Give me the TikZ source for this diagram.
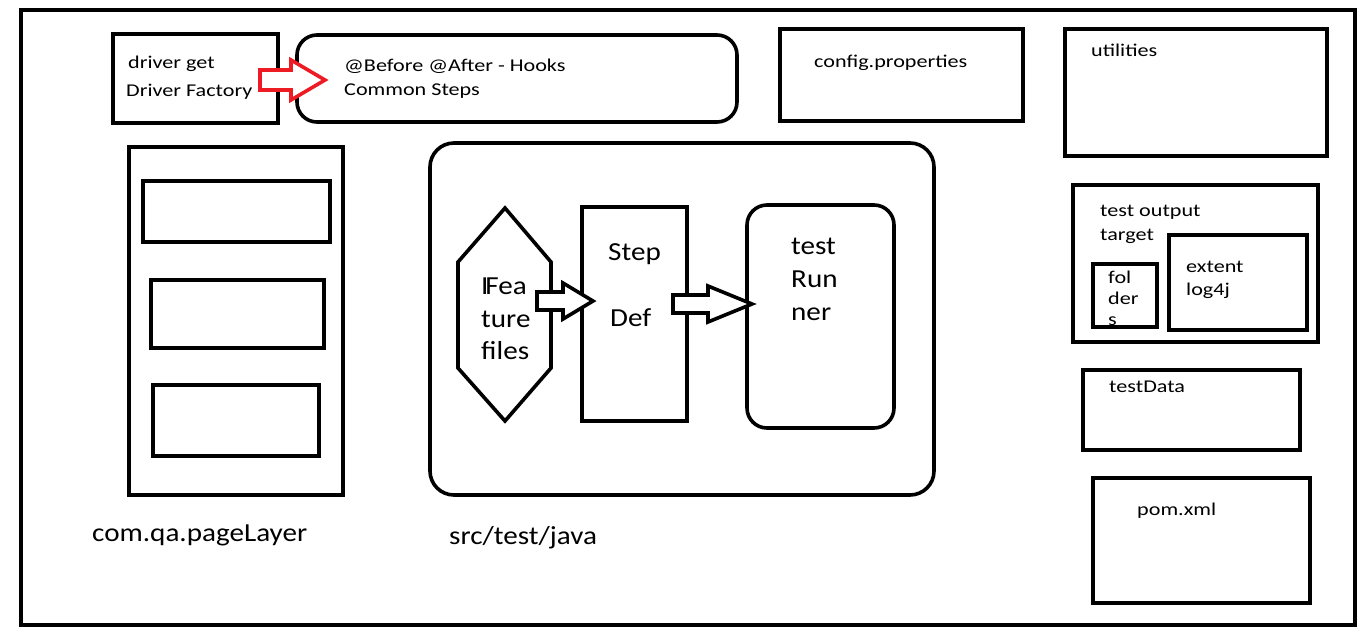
\documentclass[tikz,border=0pt]{standalone}
\usepackage{fontspec}
\setmainfont{Carlito}
\newfontfamily\smfont[FakeStretch=1.23]{Carlito}
\newfontfamily\lgfont[FakeStretch=1.12]{Carlito}
\definecolor{paintred}{RGB}{237,28,36}
\begin{document}
\begin{tikzpicture}[x=1pt,y=-1pt,
  box/.style={draw=black,line width=3.6pt},
  rbox/.style={draw=black,line width=3.6pt,rounded corners=20pt},
  sm/.style={anchor=base west,inner sep=0pt,font=\smfont\fontsize{18}{21}\selectfont},
  lg/.style={anchor=base west,inner sep=0pt,font=\lgfont\fontsize{26}{30}\selectfont},
  blockarrow/.style={draw=black,line width=3.6pt,fill=white,line join=miter},
]
\useasboundingbox (0,0) rectangle (1362,629);
% outer frame
\draw[box] (21,10) rectangle (1355,625);
% driver box
\draw[box] (113,34) rectangle (278,123);
\node[sm] (drv1) at (128,68) {driver get};
\node[sm] (drv2) at (126,96) {Driver Factory};
% hooks
\draw[rbox] (297,35) rectangle (737,122);
\node[sm] (hk1) at (344,71) {@Before @After - Hooks};
\node[sm] (hk2) at (344,95) {Common Steps};
% red arrow
\draw[draw=paintred,line width=3.6pt,fill=white,line join=miter]
  (260,70) -- (291,70) -- (291,60) -- (325,80) -- (291,100) -- (291,90) -- (260,90) -- cycle;
% config
\draw[box] (780,29) rectangle (1023,121);
\node[sm] (cfg) at (814,67) {config.properties};
% utilities
\draw[box] (1065,29) rectangle (1327,156);
\node[sm] (util) at (1091,56) {utilities};
% page layer
\draw[box] (129,147) rectangle (343,495);
\draw[box] (143,181) rectangle (330,242);
\draw[box] (151,280) rectangle (324,348);
\draw[box] (153,385) rectangle (319,456);
\node[lg] (pl) at (92,541) {com.qa.pageLayer};
% src/test/java
\draw[rbox,rounded corners=24pt] (430,143) rectangle (934,495);
\node[lg] (stj) at (449,544) {src/test/java};
% hexagon
\draw[box,line join=miter] (505,208) -- (551,262) -- (551,368) -- (505,421) -- (458,368) -- (458,262) -- cycle;
\node[lg] (f1) at (481,294) {I\kern-0.12em Fea};
\node[lg] (f2) at (481,327) {ture};
\node[lg] (f3) at (481,359) {files};
% step def
\draw[box] (582,207) rectangle (687,421);
\node[lg] (sd1) at (608,260) {Step};
\node[lg] (sd2) at (610,326) {Def};
% test runner
\draw[rbox] (747,205) rectangle (894,428);
\node[lg] (tr1) at (791,254) {test};
\node[lg] (tr2) at (791,287) {Run};
\node[lg] (tr3) at (791,320) {ner};
% black arrows
\draw[blockarrow] (537,292) -- (563,292) -- (563,283) -- (593,301) -- (563,319) -- (563,310) -- (537,310) -- cycle;
\draw[blockarrow] (673,295) -- (708,295) -- (708,286) -- (752,304) -- (708,322) -- (708,313) -- (673,313) -- cycle;
% test output
\draw[box] (1073,185) rectangle (1318,342);
\node[sm] (to1) at (1100,216) {test output};
\node[sm] (to2) at (1100,240) {target};
\begin{scope}
\clip (1093,264) rectangle (1157,326);
\node[sm] (fo1) at (1108,283) {fol};
\node[sm] (fo2) at (1108,304) {der};
\node[sm] (fo3) at (1108,325) {s};
\end{scope}
\draw[box] (1093,264) rectangle (1157,327);
\draw[box] (1169,235) rectangle (1307,330);
\node[sm] (ex1) at (1186,272) {extent};
\node[sm] (ex2) at (1186,295) {log4j};
% testData
\draw[box] (1083,370) rectangle (1300,450);
\node[sm] (td) at (1109,392) {testData};
% pom
\draw[box] (1093,478) rectangle (1310,603);
\node[sm] (pom) at (1137,515) {pom.xml};
\end{tikzpicture}
\end{document}
